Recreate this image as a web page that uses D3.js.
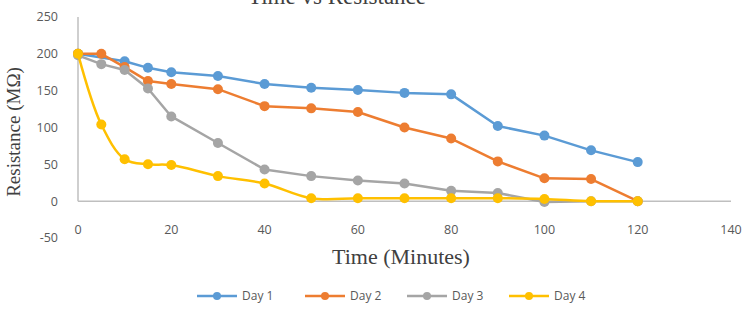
<!DOCTYPE html>
<html><head><meta charset="utf-8">
<script src="https://cdn.jsdelivr.net/npm/d3@7"></script>
<style>body{margin:0;background:#fff}svg{display:block}</style>
</head><body>
<svg id="c" width="749" height="312"></svg>
<script>
const times = [0,5,10,15,20,30,40,50,60,70,80,90,100,110,120];
const day1 = [200,null,190,181,175,170,159,154,151,147,145,102,89,69,53];
const day2 = [200,200,182,163,159,152,129,126,121,100,85,54,31,30,0];
const day3 = [198,186,178,153,115,79,43,34,28,24,14,11,-1,0,0];
const day4 = [200,104,57,50,49,34,24,4,4,4,4,4,3,0,0];
const seriesNames = ["Day 1","Day 2","Day 3","Day 4"];
const colors = ["#5B9BD5","#ED7D31","#A5A5A5","#FFC000"];
const xTicks = [0,20,40,60,80,100,120,140];
const yTicks = [-50,0,50,100,150,200,250];

const svg = d3.select("#c");
const x = d3.scaleLinear().domain([0,140]).range([78,731]);
const y = d3.scaleLinear().domain([-50,250]).range([238,17]);

// axes lines
svg.append("line").attr("x1",x(0)).attr("x2",x(0)).attr("y1",y(250)).attr("y2",y(0))
  .attr("stroke","#bfbfbf").attr("stroke-width",1.5);
svg.append("line").attr("x1",x(0)).attr("x2",x(140)).attr("y1",y(0)).attr("y2",y(0))
  .attr("stroke","#bfbfbf").attr("stroke-width",1.5);

// y tick labels
svg.selectAll(".yt").data(yTicks).enter().append("text")
  .attr("x",58).attr("y",d=>y(d)).attr("dy","0.35em").attr("text-anchor","end")
  .attr("font-family","'Open Sans', sans-serif").attr("font-size",12.5).attr("fill","#595959")
  .text(d=>d);
// x tick labels
svg.selectAll(".xt").data(xTicks).enter().append("text")
  .attr("x",d=>x(d)).attr("y",230).attr("dy","0.35em").attr("text-anchor","middle")
  .attr("font-family","'Open Sans', sans-serif").attr("font-size",12.5).attr("fill","#595959")
  .text(d=>d);

// titles
svg.append("text").attr("x",337).attr("y",4).attr("text-anchor","middle")
  .attr("font-family","'Liberation Serif', serif").attr("font-size",23).attr("fill","#404040")
  .text("Time vs Resistance");
svg.append("text").attr("x",401).attr("y",264).attr("text-anchor","middle")
  .attr("font-family","'Liberation Serif', serif").attr("font-size",22).attr("fill","#404040")
  .text("Time (Minutes)");
svg.append("text").attr("transform","translate(20,132) rotate(-90)").attr("text-anchor","middle")
  .attr("font-family","'Liberation Serif', serif").attr("font-size",19).attr("fill","#404040")
  .text("Resistance (MΩ)");

const all = [day1,day2,day3,day4];
all.forEach((vals,i)=>{
  const pts = times.map((t,j)=>({t,v:vals[j]})).filter(p=>p.v!==null);
  const line = d3.line().x(p=>x(p.t)).y(p=>y(p.v))
    .curve(i===3 ? d3.curveCatmullRom.alpha(0.5) : d3.curveLinear);
  svg.append("path").datum(pts).attr("d",line).attr("fill","none")
    .attr("stroke",colors[i]).attr("stroke-width",2.5).attr("stroke-linejoin","round");
  svg.selectAll(".m"+i).data(pts).enter().append("circle")
    .attr("cx",p=>x(p.t)).attr("cy",p=>y(p.v)).attr("r",5).attr("fill",colors[i]);
});

// legend
const legX = [197,305,407,509];
seriesNames.forEach((n,i)=>{
  const g = svg.append("g").attr("transform",`translate(${legX[i]},296)`);
  g.append("line").attr("x1",0).attr("x2",40).attr("stroke",colors[i]).attr("stroke-width",2.5);
  g.append("circle").attr("cx",20).attr("r",4).attr("fill",colors[i]);
  g.append("text").attr("x",45).attr("dy","0.35em").attr("font-family","'Open Sans', sans-serif")
    .attr("font-size",12).attr("fill","#595959").text(n);
});
</script>
</body></html>
